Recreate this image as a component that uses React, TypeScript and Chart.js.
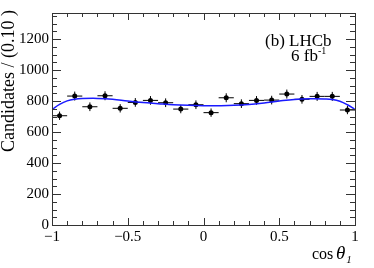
import React, { useEffect, useRef } from "react";
import { Chart, registerables } from "chart.js";

Chart.register(...registerables);

const binCenters = [-0.95, -0.85, -0.75, -0.65, -0.55, -0.45, -0.35, -0.25, -0.15, -0.05, 0.05, 0.15, 0.25, 0.35, 0.45, 0.55, 0.65, 0.75, 0.85, 0.95];
const counts = [705, 832, 763, 834, 753, 791, 804, 789, 748, 776, 725, 821, 783, 804, 806, 845, 811, 830, 830, 742];
const countErrors = [27, 29, 28, 29, 27, 28, 28, 28, 27, 28, 27, 29, 28, 28, 28, 29, 28, 29, 29, 27];
const binHalfWidth = 0.05;

const fitX = [-1, -0.95, -0.9, -0.85, -0.8, -0.7, -0.6, -0.5, -0.4, -0.3, -0.2, -0.1, 0, 0.1, 0.2, 0.3, 0.4, 0.5, 0.6, 0.7, 0.8, 0.85, 0.9, 0.95, 1];
const fitY = [745, 778, 801, 812, 816, 817, 812, 800, 790, 783, 776, 772, 770, 770, 772, 778, 788, 800, 810, 814, 813, 810, 799, 776, 745];

const xTickLabels = [-1, -0.5, 0, 0.5, 1];
const yTickLabels = [0, 200, 400, 600, 800, 1000, 1200];

const FONT = "'Liberation Serif', 'DejaVu Serif', serif";

export default function App() {
  const ref = useRef<HTMLCanvasElement | null>(null);

  useEffect(() => {
    document.body.style.margin = "0";
    const canvas = ref.current!;
    const errPlugin = {
      id: "errs",
      beforeDatasetsDraw(chart: any) {
        const { ctx, scales } = chart;
        const xs = scales.x, ys = scales.y;
        ctx.save();
        ctx.strokeStyle = "#000";
        ctx.lineWidth = 1;
        binCenters.forEach((xc, i) => {
          const px = xs.getPixelForValue(xc);
          const py = ys.getPixelForValue(counts[i]);
          ctx.beginPath();
          ctx.moveTo(xs.getPixelForValue(xc - binHalfWidth), py);
          ctx.lineTo(xs.getPixelForValue(xc + binHalfWidth), py);
          ctx.moveTo(px, ys.getPixelForValue(counts[i] - countErrors[i]));
          ctx.lineTo(px, ys.getPixelForValue(counts[i] + countErrors[i]));
          ctx.stroke();
        });
        ctx.restore();
      },
      afterDraw(chart: any) {
        const { ctx, scales, chartArea } = chart;
        const xs = scales.x, ys = scales.y;
        const { left, right, top, bottom } = chartArea;
        ctx.save();
        ctx.strokeStyle = "#333";
        ctx.lineWidth = 1;
        ctx.strokeRect(Math.round(left) + 0.5, Math.round(top) + 0.5, Math.round(right - left), Math.round(bottom - top));
        // x ticks
        for (let k = -10; k <= 10; k++) {
          const v = k / 10;
          const px = Math.round(xs.getPixelForValue(v)) + 0.5;
          const len = k % 5 === 0 ? 7 : 4;
          ctx.beginPath();
          ctx.moveTo(px, bottom);
          ctx.lineTo(px, bottom - len);
          ctx.moveTo(px, top);
          ctx.lineTo(px, top + len);
          ctx.stroke();
        }
        // y ticks
        for (let v = 0; v <= 1350; v += 50) {
          const py = Math.round(ys.getPixelForValue(v)) + 0.5;
          const len = v % 200 === 0 ? 9 : 5;
          ctx.beginPath();
          ctx.moveTo(left, py);
          ctx.lineTo(left + len, py);
          ctx.moveTo(right, py);
          ctx.lineTo(right - len, py);
          ctx.stroke();
        }
        ctx.fillStyle = "#000";
        // y title
        ctx.save();
        ctx.translate(9, 10);
        ctx.rotate(-Math.PI / 2);
        ctx.font = `18px ${FONT}`;
        ctx.textAlign = "right";
        ctx.textBaseline = "middle";
        ctx.fillText("Candidates / (0.10 )", 0, 0);
        ctx.restore();
        // x title
        ctx.textBaseline = "alphabetic";
        ctx.textAlign = "left";
        const base = 259;
        ctx.font = `16px ${FONT}`;
        ctx.fillText("cos", 312, base);
        ctx.font = `italic 19px ${FONT}`;
        ctx.fillText("θ", 336, base);
        const thW = ctx.measureText("θ").width;
        ctx.font = `italic 11px ${FONT}`;
        ctx.fillText("1", 336 + thW + 1, base + 4);
        // label
        ctx.font = `17px ${FONT}`;
        ctx.fillText("(b) LHCb", 265, 46);
        ctx.fillText("6 fb", 291, 61);
        const fbW = ctx.measureText("6 fb").width;
        ctx.font = `10px ${FONT}`;
        ctx.fillText("-1", 291 + fbW, 54);
        ctx.restore();
      },
    };

    const chart = new Chart(canvas, {
      type: "scatter",
      data: {
        datasets: [
          {
            type: "line",
            data: fitX.map((x, i) => ({ x, y: fitY[i] })),
            borderColor: "#1a1aff",
            borderWidth: 1.5,
            pointRadius: 0,
            tension: 0.4,
            fill: false,
          } as any,
          {
            data: binCenters.map((x, i) => ({ x, y: counts[i] })),
            backgroundColor: "#000",
            borderColor: "#000",
            pointRadius: 2.5,
            borderWidth: 0,
          },
        ],
      },
      options: {
        responsive: false,
        animation: false,
        events: [],
        layout: { padding: { top: 13, right: 19, left: 0, bottom: 0 } },
        plugins: { legend: { display: false }, tooltip: { enabled: false } },
        scales: {
          x: {
            type: "linear",
            min: -1,
            max: 1,
            grid: { display: false, drawTicks: false },
            border: { display: false },
            afterBuildTicks: (s: any) => {
              s.ticks = xTickLabels.map((v) => ({ value: v }));
            },
            afterFit: (s: any) => {
              s.height = 43;
            },
            ticks: {
              maxRotation: 0,
              autoSkip: false,
              padding: 3,
              color: "#000",
              font: { family: FONT, size: 15 },
              callback: (v: any) => String(v).replace("-", "\u2212"),
            },
          },
          y: {
            type: "linear",
            min: 0,
            max: 1368,
            grid: { display: false, drawTicks: false },
            border: { display: false },
            afterBuildTicks: (s: any) => {
              s.ticks = yTickLabels.map((v) => ({ value: v }));
            },
            afterFit: (s: any) => {
              s.width = 52;
            },
            ticks: {
              autoSkip: false,
              padding: 3,
              color: "#000",
              font: { family: FONT, size: 15 },
              callback: (v: any) => String(v),
            },
          },
        },
      },
      plugins: [errPlugin],
    } as any);
    return () => chart.destroy();
  }, []);

  return (
    <div style={{ position: "fixed", left: 0, top: 0, width: 374, height: 268 }}>
      <canvas ref={ref} width={374} height={268} style={{ width: 374, height: 268 }} />
    </div>
  );
}
